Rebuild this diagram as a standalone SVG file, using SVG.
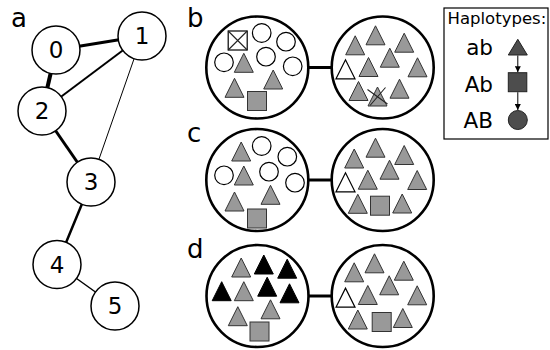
<svg xmlns="http://www.w3.org/2000/svg" xmlns:xlink="http://www.w3.org/1999/xlink" width="550" height="350" viewBox="0 0 550 350">
  <style>
    .lbl { font-family: "DejaVu Sans", sans-serif; font-size: 26px; fill: #000; }
    .num { font-family: "DejaVu Sans", sans-serif; font-size: 23px; fill: #000; text-anchor: middle; }
    .leg { font-family: "DejaVu Sans", sans-serif; fill: #000; }
    .node { fill: #fff; stroke: #000; stroke-width: 1.5; }
    .edge { stroke: #000; fill: none; }
    .deme { fill: #fff; stroke: #000; stroke-width: 2.6; }
    .link { stroke: #000; stroke-width: 3; }
    .g { fill: #999; stroke: #333; stroke-width: 1; }
    .k { fill: #000; stroke: #000; stroke-width: 1; }
    .w { fill: #fff; stroke: #000; stroke-width: 1.2; }
    .dk { fill: #4d4d4d; stroke: #222; stroke-width: 1; }
    .x { stroke: #222; stroke-width: 1.1; fill: none; }
  </style>
  <defs>
    <path id="tri" d="M-9.5,9.5 L0,-9.5 L9.5,9.5 Z"/>
    <rect id="sq" x="-9.5" y="-9.5" width="19" height="19"/>
    <circle id="ci" r="9.3"/>
    <marker id="ah" viewBox="0 0 6 6" refX="6" refY="3" markerWidth="6" markerHeight="6" markerUnits="userSpaceOnUse" orient="auto">
      <path d="M0,0 L6,3 L0,6 Z" fill="#000"/>
    </marker>
  </defs>

  <!-- panel labels -->
  <text class="lbl" x="11" y="27">a</text>
  <text class="lbl" x="187" y="27">b</text>
  <text class="lbl" x="187" y="142">c</text>
  <text class="lbl" x="187" y="258">d</text>

  <!-- network edges -->
  <g id="edges">
    <line class="edge" x1="56" y1="50" x2="142" y2="36" stroke-width="3"/>
    <line class="edge" x1="56" y1="50" x2="42" y2="111" stroke-width="4"/>
    <line class="edge" x1="142" y1="36" x2="42" y2="111" stroke-width="2"/>
    <line class="edge" x1="142" y1="36" x2="91" y2="182" stroke-width="1"/>
    <line class="edge" x1="42" y1="111" x2="91" y2="182" stroke-width="3"/>
    <line class="edge" x1="91" y1="182" x2="57" y2="264.5" stroke-width="2.5"/>
    <line class="edge" x1="57" y1="264.5" x2="115" y2="306" stroke-width="1.5"/>
  </g>

  <!-- network nodes -->
  <g id="node0"><circle class="node" cx="56" cy="50" r="24"/><text class="num" x="56" y="58">0</text></g>
  <g id="node1"><circle class="node" cx="142" cy="36" r="24"/><text class="num" x="142" y="44">1</text></g>
  <g id="node2"><circle class="node" cx="42" cy="111" r="24"/><text class="num" x="42" y="119">2</text></g>
  <g id="node3"><circle class="node" cx="91" cy="182" r="24"/><text class="num" x="91" y="190">3</text></g>
  <g id="node4"><circle class="node" cx="57" cy="264.5" r="24"/><text class="num" x="57" y="272.5">4</text></g>
  <g id="node5"><circle class="node" cx="115" cy="306" r="24"/><text class="num" x="115" y="314">5</text></g>

  <!-- deme links -->
  <g id="links">
    <line class="link" x1="308" y1="67.5" x2="332" y2="67.5"/>
    <line class="link" x1="308" y1="180" x2="332" y2="180"/>
    <line class="link" x1="308" y1="296" x2="332" y2="296"/>
  </g>

  <!-- b: left deme -->
  <g id="b-left">
    <circle class="deme" cx="257.3" cy="67.5" r="51"/>
    <rect class="w" x="228.2" y="31" width="19" height="19"/>
    <path class="x" d="M228.2,31 L247.2,50 M247.2,31 L228.2,50"/>
    <use xlink:href="#ci" class="w" x="261.7" y="33"/>
    <use xlink:href="#ci" class="w" x="286" y="41.7"/>
    <use xlink:href="#ci" class="w" x="224" y="62.3"/>
    <use xlink:href="#ci" class="w" x="266" y="56.7"/>
    <use xlink:href="#ci" class="w" x="292.7" y="66.3"/>
    <use xlink:href="#tri" class="g" x="243.8" y="62.8"/>
    <use xlink:href="#tri" class="g" x="273.2" y="79.5"/>
    <use xlink:href="#tri" class="g" x="234.5" y="87.8"/>
    <use xlink:href="#sq" class="g" x="257" y="101"/>
  </g>

  <!-- b: right deme -->
  <g id="b-right">
    <circle class="deme" cx="382.7" cy="67.5" r="51"/>
    <use xlink:href="#tri" class="g" x="355.2" y="45.3"/>
    <use xlink:href="#tri" class="g" x="375.5" y="35.3"/>
    <use xlink:href="#tri" class="g" x="404.2" y="42.7"/>
    <use xlink:href="#tri" class="g" x="389.8" y="57.7"/>
    <use xlink:href="#tri" class="w" x="345.5" y="69.3"/>
    <use xlink:href="#tri" class="g" x="368.5" y="67"/>
    <use xlink:href="#tri" class="g" x="417.5" y="67.3"/>
    <use xlink:href="#tri" class="g" x="358.5" y="91"/>
    <use xlink:href="#tri" class="g" x="377.5" y="96.5"/>
    <path class="x" d="M367.5,89.5 L387.5,104 M385.5,87.5 L370,105.5"/>
    <use xlink:href="#tri" class="g" x="399.5" y="88.7"/>
  </g>

  <!-- c: left deme -->
  <g id="c-left">
    <circle class="deme" cx="257.3" cy="180" r="51"/>
    <use xlink:href="#ci" class="w" x="261.7" y="146"/>
    <use xlink:href="#ci" class="w" x="287.3" y="156.7"/>
    <use xlink:href="#ci" class="w" x="224" y="175.3"/>
    <use xlink:href="#ci" class="w" x="269" y="171.7"/>
    <use xlink:href="#ci" class="w" x="295" y="182.7"/>
    <use xlink:href="#tri" class="g" x="241.2" y="151.5"/>
    <use xlink:href="#tri" class="g" x="243.8" y="175.5"/>
    <use xlink:href="#tri" class="g" x="270.5" y="194.8"/>
    <use xlink:href="#tri" class="g" x="234.5" y="201.5"/>
    <use xlink:href="#sq" class="g" x="257" y="218.5"/>
  </g>

  <!-- c: right deme -->
  <g id="c-right">
    <circle class="deme" cx="382.7" cy="180" r="51"/>
    <use xlink:href="#tri" class="g" x="354.2" y="158.5"/>
    <use xlink:href="#tri" class="g" x="375.5" y="147.7"/>
    <use xlink:href="#tri" class="g" x="404.2" y="155"/>
    <use xlink:href="#tri" class="g" x="389.5" y="169.7"/>
    <use xlink:href="#tri" class="w" x="345.5" y="182.3"/>
    <use xlink:href="#tri" class="g" x="367.8" y="179.7"/>
    <use xlink:href="#tri" class="g" x="417.2" y="180"/>
    <use xlink:href="#tri" class="g" x="357.8" y="203.8"/>
    <use xlink:href="#sq" class="g" x="380" y="205.7"/>
    <use xlink:href="#tri" class="g" x="402.2" y="203.5"/>
  </g>

  <!-- d: left deme -->
  <g id="d-left">
    <circle class="deme" cx="257.5" cy="296" r="51"/>
    <use xlink:href="#tri" class="g" x="241.2" y="267.5"/>
    <use xlink:href="#tri" class="k" x="263.8" y="264.5"/>
    <use xlink:href="#tri" class="k" x="287.2" y="268.7"/>
    <use xlink:href="#tri" class="k" x="221.7" y="291.2"/>
    <use xlink:href="#tri" class="g" x="243.8" y="291.2"/>
    <use xlink:href="#tri" class="k" x="267.2" y="286.7"/>
    <use xlink:href="#tri" class="k" x="289.5" y="293.3"/>
    <use xlink:href="#tri" class="g" x="270.5" y="309.3"/>
    <use xlink:href="#tri" class="g" x="237.8" y="316.2"/>
    <use xlink:href="#sq" class="g" x="259.5" y="331.5"/>
  </g>

  <!-- d: right deme -->
  <g id="d-right">
    <circle class="deme" cx="382.7" cy="296" r="51"/>
    <use xlink:href="#tri" class="g" x="354.2" y="272.3"/>
    <use xlink:href="#tri" class="g" x="374.5" y="263.3"/>
    <use xlink:href="#tri" class="g" x="403.8" y="270.7"/>
    <use xlink:href="#tri" class="g" x="389.2" y="285.3"/>
    <use xlink:href="#tri" class="w" x="345.5" y="297.7"/>
    <use xlink:href="#tri" class="g" x="367.8" y="295"/>
    <use xlink:href="#tri" class="g" x="417.2" y="295.3"/>
    <use xlink:href="#tri" class="g" x="357.8" y="319.5"/>
    <use xlink:href="#sq" class="g" x="381.7" y="322"/>
    <use xlink:href="#tri" class="g" x="402.8" y="318"/>
  </g>

  <!-- haplotype key -->
  <g id="legend">
    <rect x="444" y="8" width="104" height="131" fill="#fff" stroke="#000" stroke-width="1.2"/>
    <text class="leg" x="447.5" y="24" font-size="16.5">Haplotypes:</text>
    <text class="leg" x="493" y="55" font-size="21.5" text-anchor="end">ab</text>
    <text class="leg" x="493" y="91.5" font-size="21.5" text-anchor="end">Ab</text>
    <text class="leg" x="493" y="128" font-size="21.5" text-anchor="end">AB</text>
    <path class="dk" d="M508.3,55 L517.8,39.3 L527.3,55 Z"/>
    <rect class="dk" x="508.3" y="72.7" width="18.5" height="19"/>
    <circle class="dk" cx="517.8" cy="120" r="9.5"/>
    <line x1="517.8" y1="55.5" x2="517.8" y2="72.2" stroke="#000" stroke-width="1" marker-end="url(#ah)"/>
    <line x1="517.8" y1="92.2" x2="517.8" y2="110" stroke="#000" stroke-width="1" marker-end="url(#ah)"/>
  </g>
</svg>
